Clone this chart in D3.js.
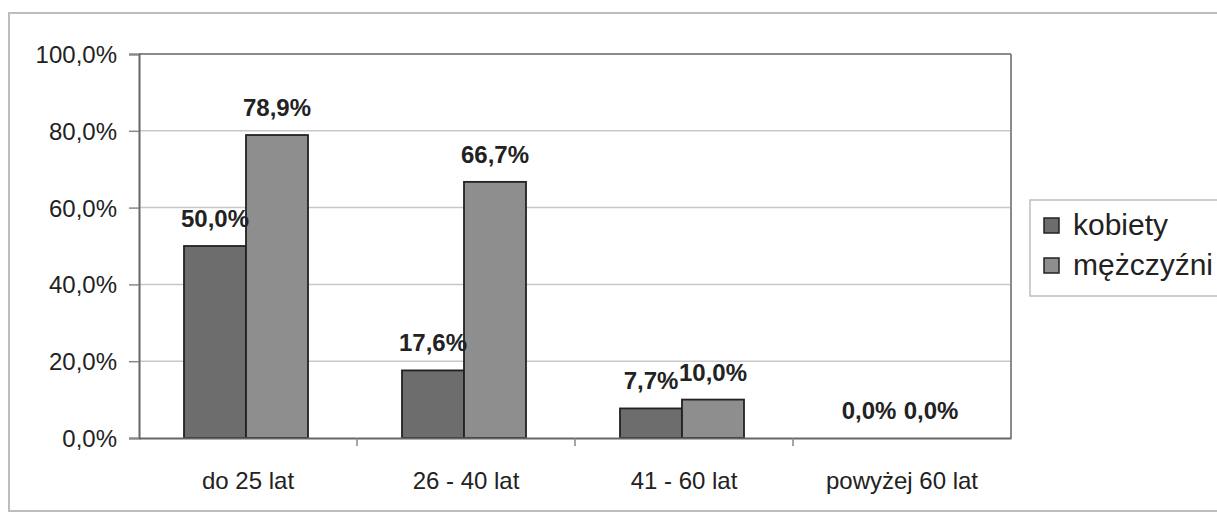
<!DOCTYPE html>
<html><head><meta charset="utf-8">
<script src="https://cdn.jsdelivr.net/npm/d3@7"></script>
<style>
html,body{margin:0;padding:0;background:#fff;}
svg{display:block;font-family:"Liberation Sans",Arial,sans-serif;}
</style></head>
<body><svg id="chart" width="1217" height="513"></svg>
<script>
const categories = ["do 25 lat", "26 - 40 lat", "41 - 60 lat", "powyżej 60 lat"];
const seriesNames = ["kobiety", "mężczyźni"];
const kobiety = [50.0, 17.6, 7.7, 0.0];
const mezczyzni = [78.9, 66.7, 10.0, 0.0];
const yTicks = [0, 20, 40, 60, 80, 100];
const colors = ["#6d6d6d", "#8e8e8e"];

const svg = d3.select("#chart");
const L = 139, R = 1011, T = 54, B = 438;

// outer chart border
svg.append("rect").attr("x", 9).attr("y", 13).attr("width", 1230).attr("height", 498)
  .attr("fill", "none").attr("stroke", "#bdbdbd").attr("stroke-width", 2);

const x = d3.scaleBand().domain(categories).range([L, R]).paddingInner(0).paddingOuter(0);
const barW = 62;
const xs = d3.scaleBand().domain(seriesNames).range([0, barW * 2]);
const y = d3.scaleLinear().domain([0, 100]).range([B, T]);

const fmt = v => v.toFixed(1).replace(".", ",") + "%";

// gridlines
svg.append("g").selectAll("line").data(yTicks.filter(t => t > 0)).join("line")
  .attr("x1", L).attr("x2", R).attr("y1", d => y(d)).attr("y2", d => y(d))
  .attr("stroke", d => d === 100 ? "#8a8a8a" : "#c8c8c8").attr("stroke-width", d => d === 100 ? 2 : 1.5);

// right border
svg.append("line").attr("x1", R).attr("x2", R).attr("y1", T).attr("y2", B)
  .attr("stroke", "#8a8a8a").attr("stroke-width", 2);

// y axis
const yAxis = d3.axisLeft(y).tickValues(yTicks).tickSize(10).tickPadding(12).tickFormat(fmt);
const gy = svg.append("g").attr("transform", `translate(${L},0)`).call(yAxis);
gy.select(".domain").attr("stroke", "#666").attr("stroke-width", 2);
gy.selectAll(".tick line").attr("stroke", "#888").attr("stroke-width", 1.5);
gy.selectAll(".tick text").attr("font-size", 24).attr("fill", "#222")
  .attr("font-family", "Liberation Sans, Arial, sans-serif").attr("dy", "0.35em");

// bars
const data = [];
categories.forEach((c, i) => {
  data.push({cat: c, s: seriesNames[0], v: kobiety[i], col: colors[0]});
  data.push({cat: c, s: seriesNames[1], v: mezczyzni[i], col: colors[1]});
});
const groupX = c => x(c) + (x.bandwidth() - barW * 2) / 2 - 2;

svg.append("g").selectAll("rect").data(data.filter(d => d.v > 0)).join("rect")
  .attr("x", d => groupX(d.cat) + xs(d.s))
  .attr("y", d => y(d.v))
  .attr("width", xs.bandwidth())
  .attr("height", d => B - y(d.v))
  .attr("fill", d => d.col).attr("stroke", "#222").attr("stroke-width", 1.8);

// x axis
const xAxis = d3.axisBottom(x).tickSize(0).tickPadding(34);
const gx = svg.append("g").attr("transform", `translate(0,${B})`).call(xAxis);
gx.select(".domain").attr("stroke", "#666").attr("stroke-width", 2);
gx.selectAll(".tick text").attr("font-size", 24).attr("fill", "#222")
  .attr("font-family", "Liberation Sans, Arial, sans-serif");
// category separator ticks
svg.append("g").selectAll("line").data(categories.slice(1)).join("line")
  .attr("x1", d => x(d)).attr("x2", d => x(d)).attr("y1", B).attr("y2", B + 8)
  .attr("stroke", "#888").attr("stroke-width", 1.5);

// data labels
svg.append("g").selectAll("text").data(data).join("text")
  .attr("x", d => groupX(d.cat) + xs(d.s) + xs.bandwidth() / 2)
  .attr("y", d => y(d.v) - 19)
  .attr("text-anchor", "middle")
  .attr("font-size", 24).attr("font-weight", "bold").attr("fill", "#222")
  .text(d => fmt(d.v));

// legend
const lg = svg.append("g");
lg.append("rect").attr("x", 1030).attr("y", 200).attr("width", 220).attr("height", 96)
  .attr("fill", "#fff").attr("stroke", "#bdbdbd").attr("stroke-width", 1.5);
seriesNames.forEach((s, i) => {
  const yy = 218 + i * 40;
  lg.append("rect").attr("x", 1044).attr("y", yy).attr("width", 15).attr("height", 15)
    .attr("fill", colors[i]).attr("stroke", "#222").attr("stroke-width", 1.5);
  lg.append("text").attr("x", 1073).attr("y", yy + 17).attr("font-size", 30).attr("fill", "#222").text(s);
});
</script></body></html>
